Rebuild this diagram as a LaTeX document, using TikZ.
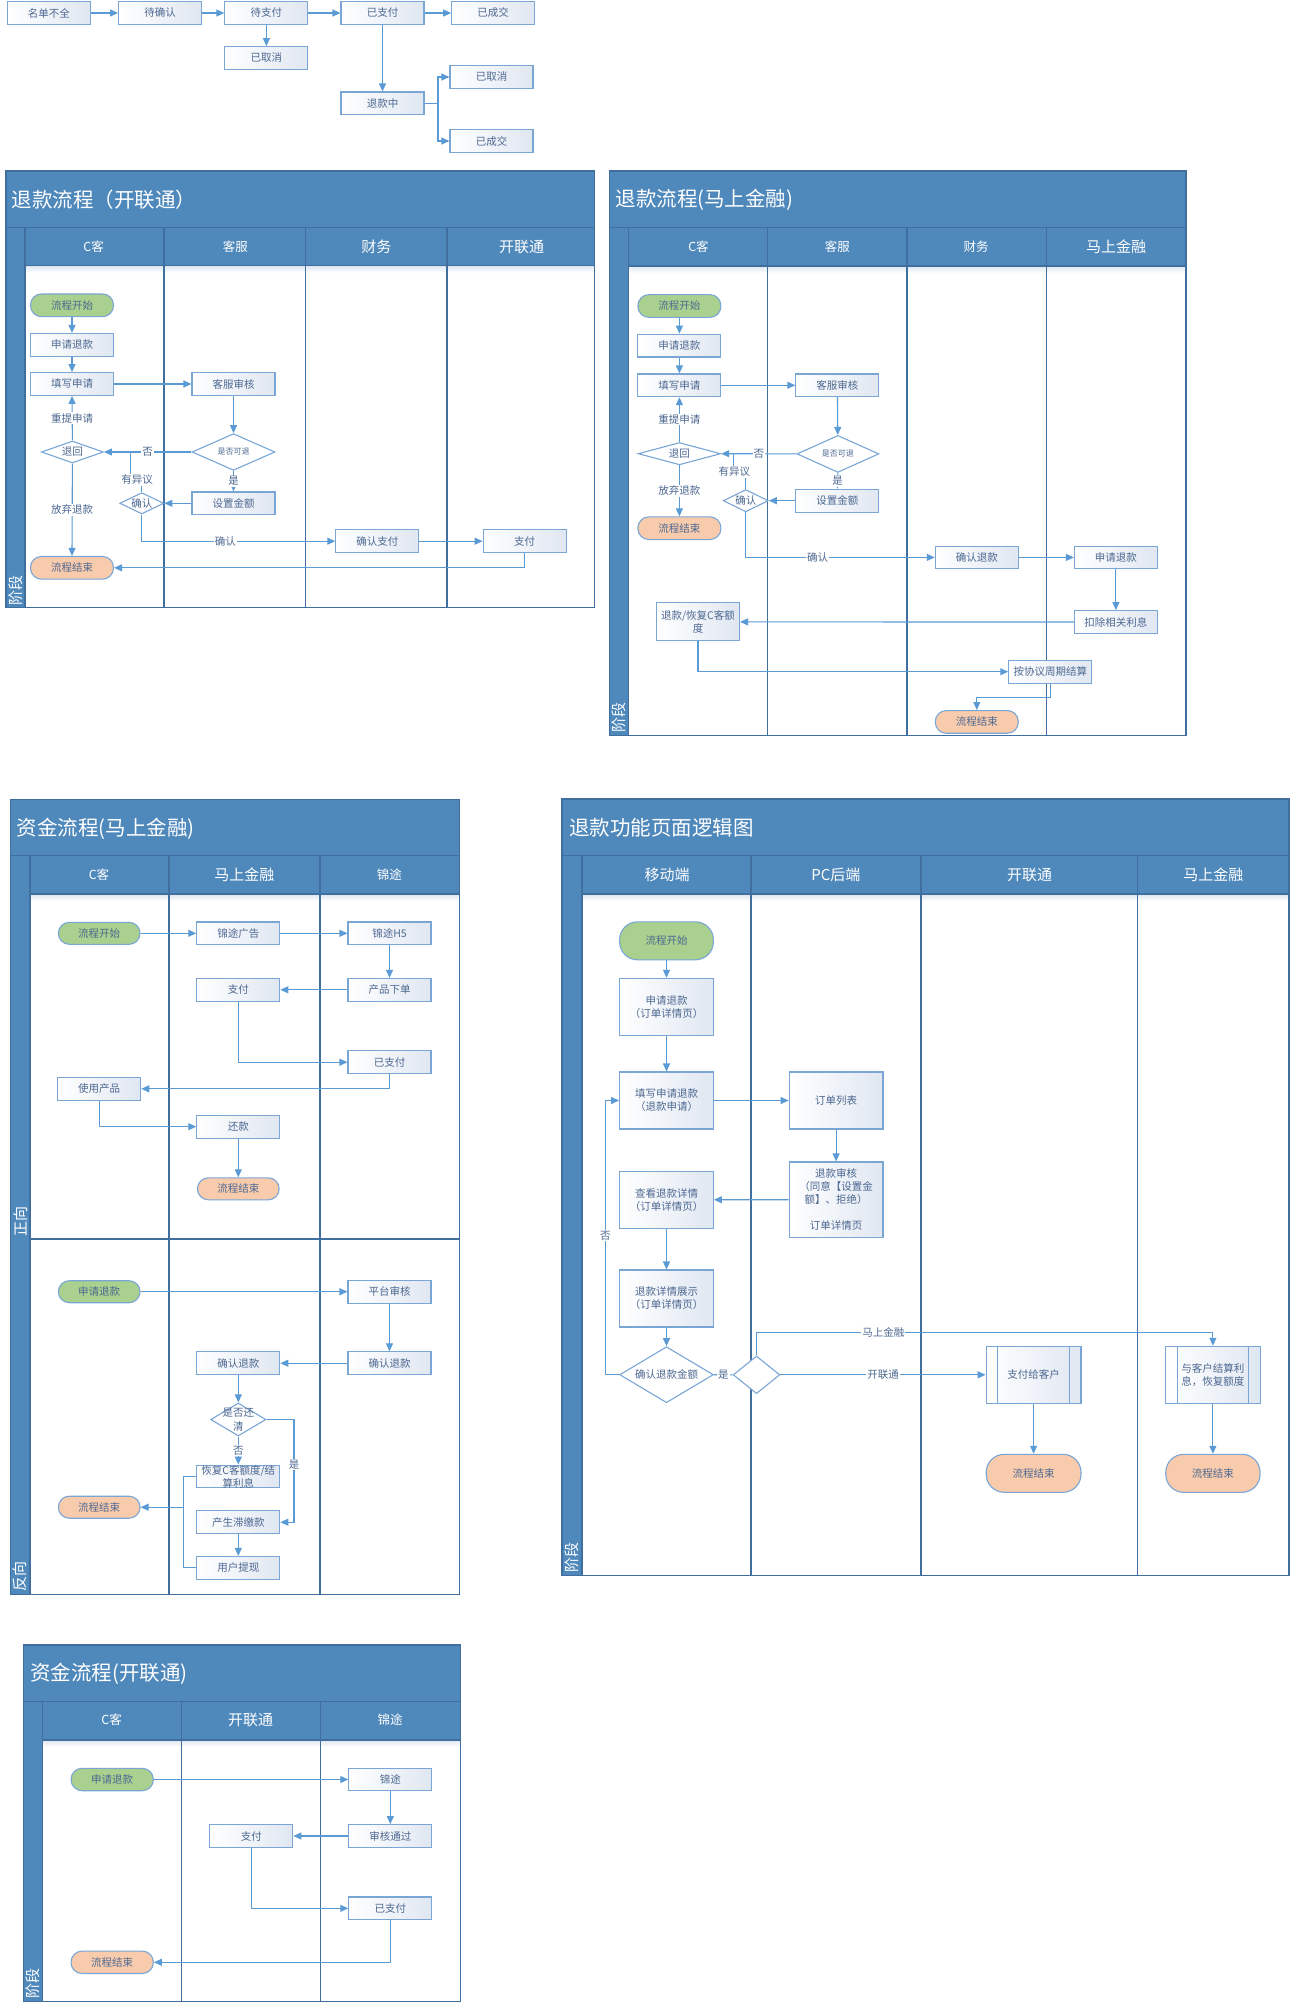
\documentclass[tikz,border=0pt]{standalone}
\usepackage{fontspec}
\setmainfont{Noto Sans CJK SC}
\usetikzlibrary{arrows.meta,shapes.geometric,calc}
\definecolor{pblue}{HTML}{4F88BB}
\definecolor{pline}{HTML}{3F6E9F}
\definecolor{ebox}{HTML}{7AA6D6}
\definecolor{arr}{HTML}{5B9BD5}
\definecolor{txt}{HTML}{4D6891}
\definecolor{gfill}{HTML}{A9D08E}
\definecolor{ofill}{HTML}{F8CBAD}
\definecolor{boxr}{HTML}{E0E7F2}
\definecolor{shd}{HTML}{DCE6F1}
\newcommand\swimpanel[7]{%
  \fill[pblue] (#1,#2) rectangle (#3,#4);
  \fill[white] (#7,#6) rectangle (#3,#4);
  \shade[top color=shd, bottom color=white] (#7,#6) rectangle (#3,#6+7);
  \draw[pline,line width=1.5pt] (#1,#5) -- (#3,#5);
  \draw[pline,line width=1.5pt] (#7,#6) -- (#3,#6);
  \draw[pline,line width=1.5pt] (#7,#5) -- (#7,#4);
  \draw[pline,line width=1.5pt] (#1,#2) rectangle (#3,#4);
}
\newcommand\lanelines[3]{\foreach \xx in {#1} {\draw[pline,line width=1.5pt] (\xx,#2) -- (\xx,#3);}}
\begin{document}
\begin{tikzpicture}[x=1pt,y=-1pt,
  nb/.style={draw=ebox, line width=1.1pt, minimum width=83pt, minimum height=22.7pt, inner sep=0pt, text=txt, font=\fontsize{10.5}{13}\selectfont, align=center},
  box/.style={nb, left color=white, right color=boxr},
  tg/.style={nb, fill=gfill, rounded corners=11pt},
  tor/.style={nb, fill=ofill, rounded corners=11pt},
  dia/.style={diamond, draw=ebox, line width=1.1pt, fill=white, inner sep=0pt},
  dlab/.style={text=txt, font=\fontsize{10.5}{13}\selectfont, align=center, inner sep=0pt},
  ar/.style={draw=arr, line width=1.1pt, -{Triangle[length=8pt,width=7pt]}},
  ln/.style={draw=arr, line width=1.1pt},
  lab/.style={fill=white, inner sep=1pt, text=txt, font=\fontsize{10.5}{13}\selectfont},
  ttl/.style={text=white, font=\fontsize{20.5}{24}\selectfont, anchor=west, inner sep=0pt},
  hds/.style={text=white, font=\fontsize{12.5}{15}\selectfont},
  hdl/.style={text=white, font=\fontsize{15}{18}\selectfont},
  stl/.style={text=white, font=\fontsize{15}{18}\selectfont, rotate=90, inner sep=0pt},
]
\useasboundingbox (0,0) rectangle (1295,2010);
\fill[white] (0,0) rectangle (1295,2010);

%%%%%%%%%%%%%%%% Section 0: status flow
\node[box] (s1) at (48.9,13) {名单不全};
\node[box] (s2) at (160.1,13) {待确认};
\node[box] (s3) at (266.4,13) {待支付};
\node[box] (s4) at (382.5,13) {已支付};
\node[box] (s5) at (493.2,13) {已成交};
\node[box] (s6) at (266.4,58) {已取消};
\node[box] (s7) at (382.5,103.3) {退款中};
\node[box] (s8) at (491.5,77) {已取消};
\node[box] (s9) at (491.5,141) {已成交};
\coordinate (s7j) at (438,103.3);
\draw[ar] (s1) -- (s2);
\draw[ar] (s2) -- (s3);
\draw[ar] (s3) -- (s4);
\draw[ar] (s4) -- (s5);
\draw[ar] (s3) -- (s6);
\draw[ar] (s4) -- (s7);
\draw[ln] (s7.east) -- (s7j);
\draw[ar] (s7j) |- (s8.west);
\draw[ar] (s7j) |- (s9.west);

%%%%%%%%%%%%%%%% Section 1: 退款流程（开联通）
\swimpanel{5.8}{171}{594.3}{607.7}{227.7}{265.7}{24.9}
\lanelines{163.8,305.6,446.9}{227.7}{607.7}
\node[ttl] (t1) at (11.5,199.3) {退款流程（开联通）};
\node[hds] (h1a) at (93.6,246.7) {C客};
\node[hds] (h1b) at (235.4,246.7) {客服};
\node[hdl] (h1c) at (376.3,246.7) {财务};
\node[hdl] (h1d) at (521.6,246.7) {开联通};
\node[stl] (g1) at (15.4,590) {阶段};

\node[tg] (a1) at (72,305.3) {流程开始};
\node[box] (a2) at (72,344.7) {申请退款};
\node[box] (a3) at (72,384) {填写申请};
\node[box] (a4) at (233.5,384) {客服审核};
\node[dia, minimum width=83pt, minimum height=36.7pt] (a5) at (233.5,452) {};
\node[dlab, font=\fontsize{8}{10}\selectfont] (a5t) at (a5) {是否可退};
\node[dia, minimum width=62pt, minimum height=22pt] (a6) at (72.4,452) {};
\node[dlab] (a6t) at (a6) {退回};
\node[box] (a7) at (233.5,503.3) {设置金额};
\node[dia, minimum width=44pt, minimum height=21.3pt] (a8) at (141.8,503.3) {};
\node[dlab] (a8t) at (a8) {确认};
\node[box] (a9) at (377.3,541.2) {确认支付};
\node[box] (a10) at (524.6,541.2) {支付};
\node[tor] (a11) at (72,567.8) {流程结束};
\coordinate (a8j) at (130.9,480);

\draw[ar] (a1) -- (a2);
\draw[ar] (a2) -- (a3);
\draw[ar] (a3) -- (a4);
\draw[ar] (a4) -- (a5);
\draw[ar] (a5.west) -- node[lab] (l1a) {否} (a6.east);
\draw[ar] (a5.south) -- node[lab] (l1b) {是} (a7.north);
\draw[ar] (a7.west) -- (a8.east);
\draw[ln] (a8.north) |- (a8j) -- (a8j |- a6.east);
\node[lab] (l1c) at (137.1,480) {有异议};
\draw[ar] (a6.north) -- node[lab] (l1d) {重提申请} (a3.south);
\draw[ar] (a6.south) -- node[lab] (l1e) {放弃退款} (a11.north);
\draw[ar] (a8.south) |- node[lab,pos=0.716] (l1f) {确认} (a9.west);
\draw[ar] (a9) -- (a10);
\draw[ar] (a10.south) |- (a11.east);

%%%%%%%%%%%%%%%% Section 2: 退款流程(马上金融)
\swimpanel{609.6}{171}{1185.8}{735.6}{227.7}{266}{628.7}
\lanelines{767.7,907.1,1046.4}{227.7}{735.6}
\node[ttl] (t2) at (615.3,200.3) {退款流程(马上金融)};
\node[hds] (h2a) at (698.5,246.7) {C客};
\node[hds] (h2b) at (837.4,246.7) {客服};
\node[hds] (h2c) at (976,246.7) {财务};
\node[hdl] (h2d) at (1116.1,246.7) {马上金融};
\node[stl] (g2) at (619,717) {阶段};

\node[tg] (b1) at (679.4,306) {流程开始};
\node[box] (b2) at (679.4,345.6) {申请退款};
\node[box] (b3) at (679.4,385.3) {填写申请};
\node[box] (b4) at (837.4,385.3) {客服审核};
\node[dia, minimum width=82pt, minimum height=37pt] (b5) at (837.9,453.9) {};
\node[dlab, font=\fontsize{8}{10}\selectfont] (b5t) at (b5) {是否可退};
\node[dia, minimum width=82.5pt, minimum height=22.3pt] (b6) at (679.4,453.7) {};
\node[dlab] (b6t) at (b6) {退回};
\node[box] (b7) at (837.4,500.7) {设置金额};
\node[dia, minimum width=45pt, minimum height=22.3pt] (b8) at (745.8,500.7) {};
\node[dlab] (b8t) at (b8) {确认};
\node[tor] (b9) at (679.4,528.2) {流程结束};
\node[box] (b10) at (976.8,557.4) {确认退款};
\node[box] (b11) at (1115.9,557.4) {申请退款};
\node[box] (b12) at (1115.9,622) {扣除相关利息};
\node[box, minimum height=38pt] (b13) at (698,621.9) {退款/恢复C客额\\度};
\node[box] (b14) at (1050.3,671.7) {按协议周期结算};
\node[tor] (b15) at (976.8,721.9) {流程结束};
\coordinate (b8j) at (733.2,477);

\draw[ar] (b1) -- (b2);
\draw[ar] (b2) -- (b3);
\draw[ar] (b3) -- (b4);
\draw[ar] (b4) -- (b5);
\draw[ar] (b5.west) -- node[lab] (l2a) {否} (b6.east);
\draw[ar] (b5.south) -- node[lab] (l2b) {是} (b7.north);
\draw[ar] (b7.west) -- (b8.east);
\draw[ln] (b8.north) |- (b8j) -- (b8j |- b6.east);
\node[lab] (l2c) at (734.4,471.7) {有异议};
\draw[ar] (b6.north) -- node[lab] (l2d) {重提申请} (b3.south);
\draw[ar] (b6.south) -- node[lab] (l2e) {放弃退款} (b9.north);
\draw[ar] (b8.south) |- node[lab,pos=0.69] (l2f) {确认} (b10.west);
\draw[ar] (b10) -- (b11);
\draw[ar] (b11) -- (b12);
\draw[ar] (b12.west) -- (b13.east);
\draw[ar] (b13.south) |- (b14.west);
\draw[ar] (b14.south) -- ++(0,13.6) -| (b15.north);

%%%%%%%%%%%%%%%% Section 3: 资金流程(马上金融)
\swimpanel{10.7}{799.3}{459.3}{1594.3}{855.7}{894}{30}
\lanelines{169,320}{855.7}{1594.3}
\draw[pline,line width=1.5pt] (30,1239) -- (459.3,1239);
\node[ttl] (t3) at (16.7,828.3) {资金流程(马上金融)};
\node[hds] (h3a) at (99,874.3) {C客};
\node[hdl] (h3b) at (244.3,874.3) {马上金融};
\node[hds] (h3c) at (389.3,874.3) {锦途};
\node[stl] (g3a) at (20.3,1221) {正向};
\node[stl] (g3b) at (20.3,1576) {反向};

\node[tg, minimum width=81.7pt, minimum height=22pt] (c1) at (99.2,933.3) {流程开始};
\node[box] (c2) at (238.3,933.3) {锦途广告};
\node[box] (c3) at (389.5,933.3) {锦途H5};
\node[box] (c4) at (389.5,989.8) {产品下单};
\node[box] (c5) at (238.3,989.8) {支付};
\node[box] (c6) at (389.5,1062.2) {已支付};
\node[box] (c7) at (99.2,1088.8) {使用产品};
\node[box] (c8) at (238.3,1126.7) {还款};
\node[tor, minimum width=81.7pt, minimum height=22pt] (c9) at (238.3,1188.8) {流程结束};
\draw[ar] (c1) -- (c2);
\draw[ar] (c2) -- (c3);
\draw[ar] (c3) -- (c4);
\draw[ar] (c4) -- (c5);
\draw[ar] (c5.south) |- (c6.west);
\draw[ar] (c6.south) |- (c7.east);
\draw[ar] (c7.south) |- (c8.west);
\draw[ar] (c8) -- (c9);

\node[tg, minimum width=81.7pt, minimum height=22pt] (c10) at (99.2,1291.7) {申请退款};
\node[box] (c11) at (389.5,1291.7) {平台审核};
\node[box] (c12) at (389.5,1363.2) {确认退款};
\node[box] (c13) at (238.3,1363.2) {确认退款};
\node[dia, minimum width=55.3pt, minimum height=33pt] (c14) at (238.3,1419.5) {};
\node[dlab, font=\fontsize{10.5}{14}\selectfont] (c14t) at (c14) {是否还\\清};
\node[box] (c15) at (238.3,1476.5) {恢复C客额度/结\\算利息};
\node[box] (c16) at (238.3,1522.2) {产生滞缴款};
\node[box] (c17) at (238.3,1567.8) {用户提现};
\node[tor, minimum width=81.7pt, minimum height=22pt] (c18) at (99.2,1507.2) {流程结束};
\coordinate (c14j) at (294,1419.5);
\coordinate (c18j) at (183.3,1507.2);
\draw[ar] (c10) -- (c11);
\draw[ar] (c11) -- (c12);
\draw[ar] (c12) -- (c13);
\draw[ar] (c13) -- (c14);
\draw[ar] (c14.south) -- node[lab] (l3a) {否} (c15.north);
\draw[ar] (c14.east) -- (c14j) |- node[lab,pos=0.218] (l3b) {是} (c16.east);
\draw[ar] (c16) -- (c17);
\draw[ln] (c15.west) -| (c18j);
\draw[ln] (c17.west) -| (c18j);
\draw[ar] (c18j) -- (c18.east);

%%%%%%%%%%%%%%%% Section 4: 退款功能页面逻辑图
\swimpanel{562}{799}{1288.8}{1575.3}{855.7}{894}{581.8}
\lanelines{751.1,921.1,1137.5}{855.7}{1575.3}
\node[ttl] (t4) at (569.1,827.3) {退款功能页面逻辑图};
\node[hdl] (h4a) at (667.2,874.8) {移动端};
\node[hdl] (h4b) at (835.9,874.8) {PC后端};
\node[hdl] (h4c) at (1029.6,874.8) {开联通};
\node[hdl] (h4d) at (1213.4,874.8) {马上金融};
\node[stl] (g4) at (571.9,1557.5) {阶段};

\begin{scope}[every node/.append style={font=\fontsize{10.5}{14}\selectfont}]
\node[tg, minimum width=93.8pt, minimum height=38pt, rounded corners=18pt] (d1) at (666.5,940.8) {流程开始};
\node[box, minimum width=93.8pt, minimum height=57pt] (d2) at (666.5,1006.8) {申请退款\\（订单详情页）};
\node[box, minimum width=93.8pt, minimum height=57pt] (d3) at (666.5,1100.5) {填写申请退款\\（退款申请）};
\node[box, minimum width=93.8pt, minimum height=57pt] (d4) at (836.1,1100.5) {订单列表};
\node[box, minimum width=93.8pt, minimum height=75.7pt] (d5) at (836.1,1199.8) {退款审核\\（同意【设置金\\额】、拒绝）\\[13pt]订单详情页};
\node[box, minimum width=93.8pt, minimum height=57pt] (d6) at (666.5,1199.7) {查看退款详情\\（订单详情页）};
\node[box, minimum width=93.8pt, minimum height=57pt] (d7) at (666.5,1298.5) {退款详情展示\\（订单详情页）};
\node[dia, minimum width=93.8pt, minimum height=56pt] (d8) at (666.5,1374.7) {};
\node[dlab] (d8t) at (d8) {确认退款金额};
\node[dia, minimum width=46.7pt, minimum height=37.7pt] (d9) at (756.5,1374.8) {};
\node[box, minimum width=94.8pt, minimum height=57pt] (d10) at (1033.6,1374.8) {支付给客户};
\node[box, minimum width=94.3pt, minimum height=57pt] (d11) at (1212.9,1374.8) {与客户结算利\\息，恢复额度};
\node[tor, minimum width=94.8pt, minimum height=38pt, rounded corners=18pt] (d12) at (1033.6,1473.3) {流程结束};
\node[tor, minimum width=94.3pt, minimum height=38pt, rounded corners=18pt] (d13) at (1212.9,1473.3) {流程结束};
\end{scope}
\draw[ebox, line width=1.1pt] ([xshift=12pt]d10.north west) -- ([xshift=12pt]d10.south west);
\draw[ebox, line width=1.1pt] ([xshift=-12pt]d10.north east) -- ([xshift=-12pt]d10.south east);
\draw[ebox, line width=1.1pt] ([xshift=12pt]d11.north west) -- ([xshift=12pt]d11.south west);
\draw[ebox, line width=1.1pt] ([xshift=-12pt]d11.north east) -- ([xshift=-12pt]d11.south east);
\coordinate (d8j) at (605.4,1374.7);
\coordinate (d11j) at (1212.9,1332.3);
\draw[ar] (d1) -- (d2);
\draw[ar] (d2) -- (d3);
\draw[ar] (d3) -- (d4);
\draw[ar] (d4) -- (d5);
\draw[ar] (d5) -- (d6);
\draw[ar] (d6) -- (d7);
\draw[ar] (d7) -- (d8);
\draw[ar] (d8.west) -- (d8j) |- node[lab,pos=0.253] (l4a) {否} (d3.west);
\draw[ln] (d8.east) -- node[lab] (l4b) {是} (d9.west);
\draw[ar] (d9.east) -- node[lab] (l4c) {开联通} (d10.west);
\draw[ar] (d9.north) |- node[lab,pos=0.639] (l4d) {马上金融} (d11j) -- (d11.north);
\draw[ar] (d10) -- (d12);
\draw[ar] (d11) -- (d13);

%%%%%%%%%%%%%%%% Section 5: 资金流程(开联通)
\swimpanel{23.3}{1645}{460.7}{2001.7}{1701.7}{1740}{42.7}
\lanelines{181.7,320.7}{1701.7}{2001.7}
\node[ttl] (t5) at (30,1673.3) {资金流程(开联通)};
\node[hds] (h5a) at (111.7,1720) {C客};
\node[hdl] (h5b) at (250.7,1720) {开联通};
\node[hds] (h5c) at (390,1720) {锦途};
\node[stl] (g5) at (33,1983) {阶段};

\node[tg, minimum width=82.3pt, minimum height=22.4pt] (e1) at (112.2,1779.5) {申请退款};
\node[box] (e2) at (390.3,1779.5) {锦途};
\node[box] (e3) at (390.3,1836) {审核通过};
\node[box] (e4) at (251.3,1836) {支付};
\node[box] (e5) at (390.3,1908.3) {已支付};
\node[tor, minimum width=82.3pt, minimum height=22.4pt] (e6) at (112.2,1962.3) {流程结束};
\draw[ar] (e1) -- (e2);
\draw[ar] (e2) -- (e3);
\draw[ar] (e3) -- (e4);
\draw[ar] (e4.south) |- (e5.west);
\draw[ar] (e5.south) |- (e6.east);
\end{tikzpicture}
\end{document}
